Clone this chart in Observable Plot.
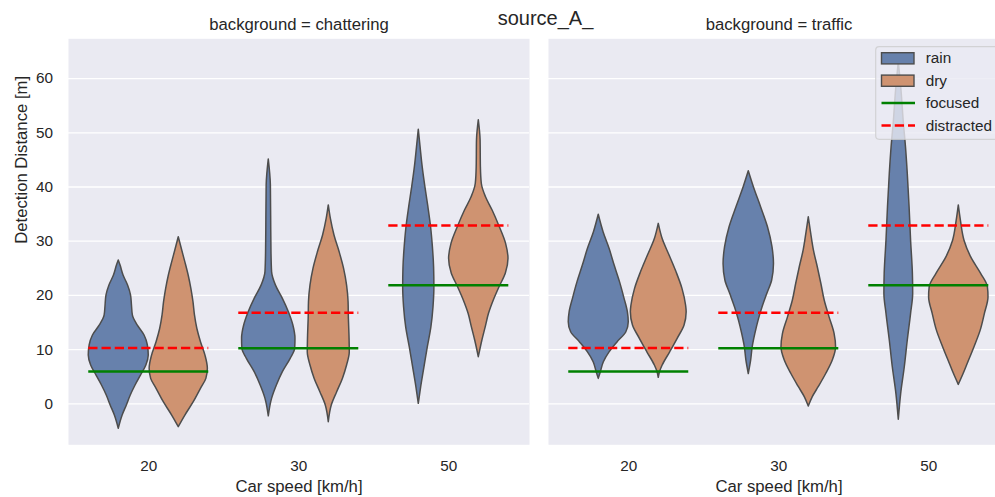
<!DOCTYPE html>
<html>
<head>
<meta charset="utf-8">
<script src="https://cdn.jsdelivr.net/npm/d3@7"></script>
<script src="https://cdn.jsdelivr.net/npm/@observablehq/plot@0.6"></script>
<style>
html, body { margin: 0; padding: 0; overflow: hidden; background: #fff; width: 995px; height: 497px; }
#wrap { position: relative; width: 995px; height: 497px; overflow: hidden; font-family: "Liberation Sans", Arial, sans-serif; color: #262626; }
#wrap > svg.overlay { position: absolute; left: 0; top: 0; }
#chart { position: absolute; left: 0; top: 0; width: 1009px; height: 497px; }
#chart svg { max-width: none !important; width: 1009px !important; height: 497px !important; }
</style>
</head>
<body>
<div id="wrap"><div id="chart"></div></div>
<script>
// ---------- data ----------
const backgrounds = ["chattering", "traffic"];
const speeds = ["20", "30", "50"];
const hues = ["rain", "dry"];
const yTicks = [0, 10, 20, 30, 40, 50, 60];

// horizontal reference lines per speed (same for both backgrounds)
const focused = [5.96, 10.26, 21.88];
const distracted = [10.3, 16.8, 32.9];

// violin profiles: [detection distance, relative density (1 = widest)]
const chat20Rain = [[26.44,0],[25.5,0.06],[23.67,0.16],[21.83,0.31],[19.98,0.41],[18.14,0.44],[16.3,0.47],[14.45,0.63],[12.6,0.86],[10.76,0.97],[8.9,1.0],[7.06,0.92],[5.2,0.74],[3.38,0.56],[1.53,0.4],[-0.3,0.27],[-2.16,0.13],[-4.6,0]];
const chat20Dry = [[30.74,0],[28.6,0.1],[26.1,0.22],[23.67,0.33],[21.2,0.42],[18.75,0.49],[16.3,0.54],[13.8,0.62],[11.37,0.74],[8.9,0.89],[6.46,0.97],[4.6,0.92],[2.77,0.74],[0.3,0.5],[-2.16,0.22],[-4.3,0]];
const chat30Rain = [[45.07,0],[40.3,0.07],[34.1,0.08],[28.0,0.09],[24.3,0.11],[21.8,0.24],[19.37,0.47],[16.9,0.67],[14.45,0.82],[12.0,0.89],[10.15,0.88],[8.3,0.73],[5.83,0.47],[3.38,0.27],[0.92,0.11],[-2.3,0]];
const chat30Dry = [[36.6,0],[34.1,0.07],[31.05,0.19],[28.0,0.36],[24.9,0.51],[21.8,0.61],[18.75,0.66],[15.7,0.67],[12.6,0.69],[9.5,0.7],[7.06,0.61],[4.6,0.47],[2.14,0.28],[-0.3,0.1],[-3.4,0]];
const chat50Rain = [[50.55,0],[47.3,0.06],[43.65,0.13],[39.96,0.22],[36.27,0.32],[32.58,0.41],[28.9,0.47],[25.2,0.51],[21.5,0.52],[17.8,0.49],[14.1,0.42],[10.4,0.3],[6.75,0.19],[3.06,0.08],[0,0]];
const chat50Dry = [[52.3,0],[48.6,0.06],[43.65,0.07],[40.6,0.1],[38.1,0.24],[35.66,0.46],[32.58,0.7],[29.5,0.91],[26.75,0.99],[24.0,0.9],[21.5,0.69],[19.06,0.5],[16.6,0.34],[14.1,0.23],[11.68,0.12],[8.6,0]];
const traf20Rain = [[34.87,0],[31.66,0.16],[28.6,0.36],[25.5,0.53],[22.4,0.71],[19.37,0.86],[16.9,0.97],[15.06,1.0],[13.2,0.92],[11.37,0.63],[9.5,0.36],[7.68,0.17],[5.83,0.07],[4.6,0]];
const traf20Dry = [[33.2,0],[30.4,0.13],[27.36,0.36],[24.3,0.59],[21.2,0.79],[18.14,0.91],[16.9,0.93],[14.45,0.86],[12.0,0.63],[9.5,0.38],[7.06,0.13],[5.83,0.04],[4.8,0]];
const traf30Rain = [[42.9,0],[39.96,0.17],[36.27,0.41],[32.58,0.64],[28.9,0.79],[25.8,0.84],[22.75,0.78],[20.3,0.62],[17.8,0.46],[15.4,0.33],[12.9,0.22],[10.4,0.13],[8.0,0.08],[5.5,0]];
const traf30Dry = [[34.4,0],[31.4,0.08],[28.3,0.17],[25.2,0.3],[22.1,0.42],[19.06,0.53],[16.0,0.69],[12.9,0.86],[10.4,0.91],[8.0,0.8],[5.5,0.58],[3.06,0.33],[1.2,0.13],[-0.5,0]];
const traf50Rain = [[63.0,0],[57.8,0.09],[51.66,0.17],[47.3,0.24],[42.4,0.3],[36.27,0.36],[30.1,0.41],[24.0,0.47],[20.3,0.48],[16.6,0.41],[11.68,0.3],[6.75,0.2],[1.85,0.08],[-2.95,0]];
const traf50Dry = [[36.6,0],[33.8,0.07],[30.1,0.19],[27.05,0.41],[24.0,0.74],[21.5,0.97],[19.67,0.99],[16.6,0.87],[13.5,0.73],[10.4,0.52],[7.4,0.3],[5.5,0.16],[3.5,0]];

// ---------- styling ----------
const BLUE = "#6781ac", ORANGE = "#cf9371", EDGE = "#4d4d4d", BG = "#eaeaf2";
const FONT = "Liberation Sans, Arial, sans-serif";

// ---------- tables built from the arrays ----------
const profiles = [
  ["chattering", "20", "rain", chat20Rain], ["chattering", "20", "dry", chat20Dry],
  ["chattering", "30", "rain", chat30Rain], ["chattering", "30", "dry", chat30Dry],
  ["chattering", "50", "rain", chat50Rain], ["chattering", "50", "dry", chat50Dry],
  ["traffic", "20", "rain", traf20Rain], ["traffic", "20", "dry", traf20Dry],
  ["traffic", "30", "rain", traf30Rain], ["traffic", "30", "dry", traf30Dry],
  ["traffic", "50", "rain", traf50Rain], ["traffic", "50", "dry", traf50Dry]
];
const DODGE = 0.2, MAXHALF = 0.2, LINEHALF = 0.4;
const violinRows = profiles.flatMap(([bg, sp, hue, prof]) =>
  prof.map(([y, w]) => ({
    id: bg + sp + hue, bg, hue, y, w,
    pos: speeds.indexOf(sp) + (hue === "rain" ? -DODGE : DODGE)
  })));
const lineRows = backgrounds.flatMap(bg => speeds.flatMap((sp, i) => [
  {bg, pos: i, y: focused[i], kind: "focused"},
  {bg, pos: i, y: distracted[i], kind: "distracted"}
]));

const chart = Plot.plot({
  width: 1009, height: 497,
  marginLeft: 67.1, marginRight: 0, marginTop: 38.3, marginBottom: 52.7,
  style: {fontFamily: FONT, fontSize: "15.3px", color: "#262626", background: "transparent", overflow: "visible", maxWidth: "none"},
  fx: {domain: backgrounds, padding: 0.0402, axis: null},
  x: {domain: [-0.535, 2.538], axis: null},
  y: {domain: [-7.56, 67.34], axis: null},
  color: {domain: hues, range: [BLUE, ORANGE]},
  marks: [
    Plot.frame({fill: BG, stroke: null}),
    Plot.gridY(yTicks, {stroke: "#ffffff", strokeOpacity: 1, strokeWidth: 1.3}),
    Plot.areaX(violinRows, {
      fx: "bg", y: "y", z: "id", fill: "hue",
      x1: d => d.pos - d.w * MAXHALF, x2: d => d.pos + d.w * MAXHALF,
      stroke: EDGE, strokeWidth: 1.5, curve: "monotone-y"
    }),
    Plot.ruleY(lineRows.filter(d => d.kind === "focused"), {
      fx: "bg", y: "y", x1: d => d.pos - LINEHALF, x2: d => d.pos + LINEHALF,
      stroke: "#008000", strokeWidth: 2.5
    }),
    Plot.ruleY(lineRows.filter(d => d.kind === "distracted"), {
      fx: "bg", y: "y", x1: d => d.pos - LINEHALF, x2: d => d.pos + LINEHALF,
      stroke: "#ff0000", strokeWidth: 2.5, strokeDasharray: "9.25,4"
    }),
    Plot.axisX({ticks: [0, 1, 2], tickFormat: i => speeds[i], tickSize: 0, tickPadding: 15.5, label: null}),
    Plot.axisY({ticks: yTicks, tickSize: 0, tickPadding: 15.5, label: null}),
    Plot.text(backgrounds, {fx: d => d, text: d => `background = ${d}`, frameAnchor: "top", lineAnchor: "middle", dy: -14.1, fontSize: 16.7}),
    Plot.text(backgrounds, {fx: d => d, text: () => "Car speed [km/h]", frameAnchor: "bottom", lineAnchor: "middle", dy: 41.7, fontSize: 16.7}),
    Plot.text([backgrounds[0]], {fx: d => d, text: () => "Detection Distance [m]", frameAnchor: "left", lineAnchor: "middle", dx: -47.2, dy: 2, rotate: -90, fontSize: 16.7})
  ]
});
document.getElementById("chart").appendChild(chart);

// ---------- overlay: figure title and legend ----------
const ns = "http://www.w3.org/2000/svg";
const ov = document.createElementNS(ns, "svg");
ov.setAttribute("class", "overlay");
ov.setAttribute("width", 995); ov.setAttribute("height", 497);
ov.setAttribute("font-family", FONT);
function el(tag, attrs, text) {
  const e = document.createElementNS(ns, tag);
  for (const k in attrs) e.setAttribute(k, attrs[k]);
  if (text != null) e.textContent = text;
  ov.appendChild(e); return e;
}
el("text", {x: 545.5, y: 24.8, "text-anchor": "middle", "font-size": 20, fill: "#262626"}, "source_A_");
el("rect", {x: 875.7, y: 46.7, width: 135, height: 92.6, rx: 3.5, fill: BG, "fill-opacity": 0.8, stroke: "#cccccc", "stroke-opacity": 0.8, "stroke-width": 1.2});
const legendItems = [
  {label: hues[0], type: "patch", color: BLUE},
  {label: hues[1], type: "patch", color: ORANGE},
  {label: "focused", type: "line", color: "#008000"},
  {label: "distracted", type: "dash", color: "#ff0000"}
];
legendItems.forEach((it, i) => {
  const cy = 58.3 + i * 22.4;
  if (it.type === "patch") {
    el("rect", {x: 881.5, y: cy - 5.6, width: 32.5, height: 11.2, fill: it.color, stroke: EDGE, "stroke-width": 1.4});
  } else {
    el("line", {x1: 881.5, x2: 915, y1: cy, y2: cy, stroke: it.color, "stroke-width": 2.5,
      "stroke-dasharray": it.type === "dash" ? "9.25,4" : "none"});
  }
  el("text", {x: 925.7, y: cy + 5.1, "font-size": 15.3, fill: "#262626"}, it.label);
});
document.getElementById("wrap").appendChild(ov);
</script>
</body>
</html>
